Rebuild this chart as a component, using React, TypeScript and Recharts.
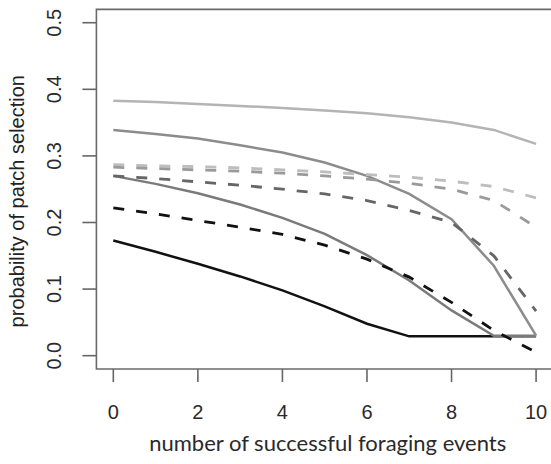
import React from "react";
import { LineChart, Line, XAxis, YAxis, ReferenceArea } from "recharts";

const events = [0, 1, 2, 3, 4, 5, 6, 7, 8, 9, 10];
const solidLight = [0.383, 0.381, 0.378, 0.375, 0.372, 0.368, 0.364, 0.358, 0.35, 0.339, 0.318];
const solidMid = [0.339, 0.333, 0.326, 0.316, 0.305, 0.29, 0.27, 0.243, 0.205, 0.135, 0.03];
const solidDark = [0.27, 0.258, 0.244, 0.227, 0.207, 0.183, 0.151, 0.113, 0.068, 0.03, 0.03];
const solidBlack = [0.173, 0.156, 0.138, 0.119, 0.098, 0.074, 0.048, 0.029, 0.029, 0.029, 0.029];
const dashLight = [0.287, 0.285, 0.284, 0.282, 0.279, 0.276, 0.272, 0.268, 0.262, 0.254, 0.237];
const dashMid = [0.283, 0.281, 0.279, 0.277, 0.274, 0.27, 0.265, 0.259, 0.25, 0.233, 0.193];
const dashDark = [0.27, 0.266, 0.261, 0.256, 0.25, 0.243, 0.233, 0.218, 0.2, 0.15, 0.067];
const dashBlack = [0.222, 0.213, 0.203, 0.193, 0.182, 0.166, 0.145, 0.118, 0.08, 0.038, 0.005];

const xTicks = [0, 2, 4, 6, 8, 10];
const yTicks = [0, 0.1, 0.2, 0.3, 0.4, 0.5];
const xTitle = "number of successful foraging events";
const yTitle = "probability of patch selection";

const data = events.map((e, i) => ({
  x: e,
  solidLight: solidLight[i],
  solidMid: solidMid[i],
  solidDark: solidDark[i],
  solidBlack: solidBlack[i],
  dashLight: dashLight[i],
  dashMid: dashMid[i],
  dashDark: dashDark[i],
  dashBlack: dashBlack[i],
}));

const TICK_FONT = "'Liberation Sans', Arial, sans-serif";

const XTick = (props: any) => {
  const { x, y, payload } = props;
  return (
    <text x={x} y={y} dy="0.71em" textAnchor="middle" fontFamily={TICK_FONT} fontSize={20} fill="#2a2a2a">
      {payload.value}
    </text>
  );
};

const YTick = (props: any) => {
  const { x, y, payload } = props;
  return (
    <text
      x={x}
      y={y}
      textAnchor="middle"
      transform={`rotate(-90, ${x}, ${y})`}
      fontFamily={TICK_FONT}
      fontSize={20}
      fill="#2a2a2a"
    >
      {Number(payload.value).toFixed(1)}
    </text>
  );
};

const YTitle = (props: any) => {
  const vb = props.viewBox || {};
  const cx = (vb.x || 0) + 24;
  const cy = (vb.y || 0) + (vb.height || 0) / 2 + 12;
  return (
    <text
      x={cx}
      y={cy}
      textAnchor="middle"
      transform={`rotate(-90, ${cx}, ${cy})`}
      fontFamily={TICK_FONT}
      fontSize={20}
      fill="#222"
    >
      {yTitle}
    </text>
  );
};

const XTitle = (props: any) => {
  const vb = props.viewBox || {};
  const cx = (vb.x || 0) + (vb.width || 0) / 2 + 3;
  const cy = (vb.y || 0) + 82;
  return (
    <text x={cx} y={cy} textAnchor="middle" fontFamily="Lato, 'Open Sans', sans-serif" fontSize={22} fill="#2a2a2a">
      {xTitle}
    </text>
  );
};

const DASH = "11 12";

export default function App() {
  return (
    <div style={{ position: "absolute", left: 0, top: 0, width: 551, height: 464, overflow: "hidden", background: "#fff" }}>
      <LineChart width={560} height={464} data={data} margin={{ top: 9.4, right: 7, bottom: 0, left: 0 }}>
        <XAxis
          dataKey="x"
          type="number"
          domain={[-0.4, 10.4]}
          ticks={xTicks}
          height={95}
          axisLine={false}
          tickSize={13}
          tickMargin={23}
          tickLine={{ stroke: "#666", strokeWidth: 1.6 }}
          tick={<XTick />}
          interval={0}
          allowDataOverflow
          label={<XTitle />}
        />
        <YAxis
          type="number"
          domain={[-0.02, 0.52]}
          ticks={yTicks}
          width={96.4}
          axisLine={false}
          tickSize={14}
          tickMargin={21}
          tickLine={{ stroke: "#666", strokeWidth: 1.6 }}
          tick={<YTick />}
          interval={0}
          allowDataOverflow
          label={<YTitle />}
        />
        <ReferenceArea x1={-0.4} x2={10.4} y1={-0.02} y2={0.52} fill="none" stroke="#6a6a6a" strokeWidth={1.6} ifOverflow="visible" />
        <Line dataKey="solidBlack" type="linear" stroke="#111" strokeWidth={2.5} dot={false} isAnimationActive={false} />
        <Line dataKey="solidDark" type="linear" stroke="#7a7a7a" strokeWidth={2.5} dot={false} isAnimationActive={false} />
        <Line dataKey="solidMid" type="linear" stroke="#8c8c8c" strokeWidth={2.5} dot={false} isAnimationActive={false} />
        <Line dataKey="solidLight" type="linear" stroke="#b4b4b4" strokeWidth={2.5} dot={false} isAnimationActive={false} />
        <Line dataKey="dashLight" type="linear" stroke="#bdbdbd" strokeWidth={2.8} strokeDasharray={DASH} dot={false} isAnimationActive={false} />
        <Line dataKey="dashMid" type="linear" stroke="#9a9a9a" strokeWidth={2.8} strokeDasharray={DASH} dot={false} isAnimationActive={false} />
        <Line dataKey="dashDark" type="linear" stroke="#666" strokeWidth={2.8} strokeDasharray={DASH} dot={false} isAnimationActive={false} />
        <Line dataKey="dashBlack" type="linear" stroke="#111" strokeWidth={2.8} strokeDasharray={DASH} dot={false} isAnimationActive={false} />
      </LineChart>
    </div>
  );
}
